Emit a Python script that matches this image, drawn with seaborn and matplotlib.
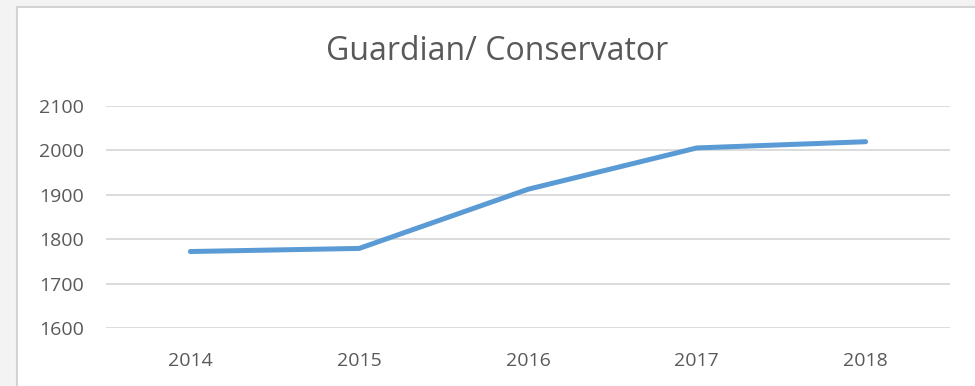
import matplotlib
matplotlib.use("Agg")
import matplotlib.pyplot as plt
import seaborn as sns
import pandas as pd
from matplotlib.patches import Rectangle

years = ["2014", "2015", "2016", "2017", "2018"]
counts = [1772, 1779, 1912, 2005, 2019]
y_ticks = [1600, 1700, 1800, 1900, 2000, 2100]

df = pd.DataFrame({"year": years, "count": counts})

sns.set_style("white")
plt.rcParams["font.family"] = ["Open Sans", "DejaVu Sans"]

fig = plt.figure(figsize=(9.75, 3.86), dpi=100, facecolor="#f3f3f3")
# white chart area with a light border, drawn below the axes
fig.patches.append(Rectangle((17 / 975, -0.05), 1.0, 1 - 7 / 386 + 0.05,
                             transform=fig.transFigure, facecolor="white",
                             edgecolor="#d4d4d4", linewidth=1.5, zorder=-1))

ax = fig.add_axes([106 / 975, 1 - 328 / 386, (950 - 106) / 975, (328 - 105.7) / 386])
ax.set_facecolor("none")
sns.lineplot(data=df, x="year", y="count", ax=ax, color="#5b9bd5",
             linewidth=3.6, solid_capstyle="round", solid_joinstyle="miter")

ax.set_xlim(-0.5, len(years) - 0.5)
ax.set_ylim(1600, 2100)
ax.set_yticks(y_ticks)
ax.yaxis.grid(True, color="#d9d9d9", linewidth=1.3)
ax.set_axisbelow(True)
for s in ax.spines.values():
    s.set_visible(False)
ax.tick_params(axis="both", length=0, labelsize=14, labelcolor="#595959")
ax.tick_params(axis="y", pad=16)
ax.tick_params(axis="x", pad=17)
ax.set_xlabel("")
ax.set_ylabel("")

fig.text(497 / 975, 1 - 52 / 386, "Guardian/ Conservator", ha="center", va="center",
         fontsize=23, color="#595959")

fig.savefig("out.png", dpi=100, facecolor=fig.get_facecolor())
